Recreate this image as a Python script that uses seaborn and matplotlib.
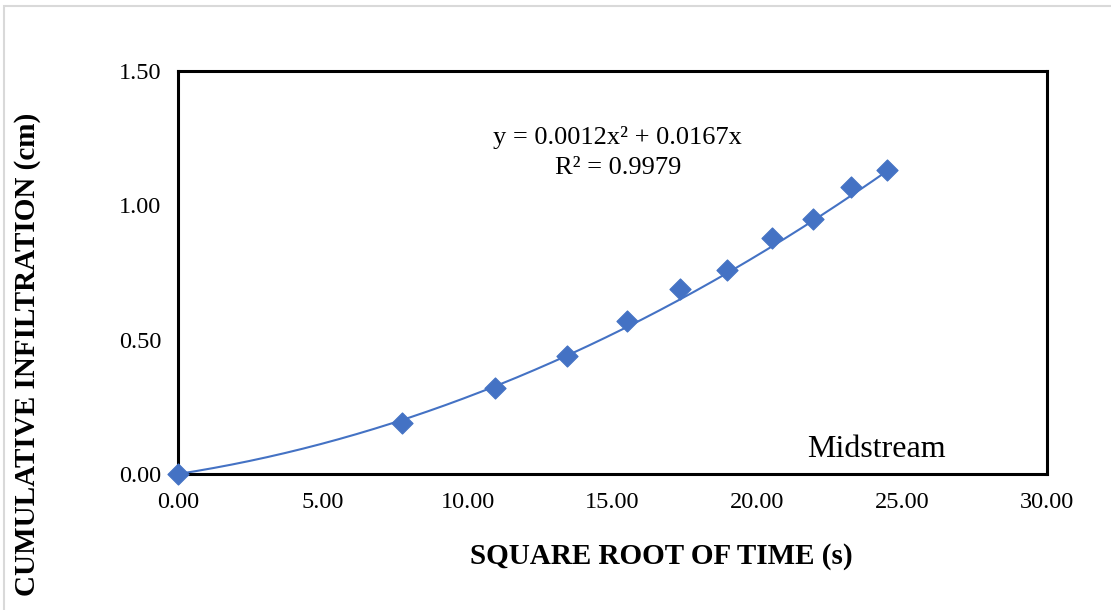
import numpy as np
import pandas as pd
import matplotlib
matplotlib.use("Agg")
import matplotlib.pyplot as plt
import seaborn as sns

# square root of time (s) and cumulative infiltration (cm)
sqrt_time = [0.00, 7.75, 10.95, 13.42, 15.49, 17.32, 18.97, 20.49, 21.91, 23.24, 24.49]
infiltration = [0.00, 0.19, 0.32, 0.44, 0.57, 0.69, 0.76, 0.88, 0.95, 1.07, 1.13]

# trendline as printed on the chart: y = a x^2 + b x
trend_coef = [0.0012, 0.0167]
trend_r2 = 0.9979

x_ticks = [0, 5, 10, 15, 20, 25, 30]
y_ticks = [0.0, 0.5, 1.0, 1.5]

df = pd.DataFrame({"x": sqrt_time, "y": infiltration})

xf = np.linspace(0, df["x"].max(), 200)
fit = pd.DataFrame({"x": xf, "y": trend_coef[0] * xf ** 2 + trend_coef[1] * xf})

sns.set_style("white", {"text.color": "black", "xtick.color": "black",
                        "ytick.color": "black", "axes.labelcolor": "black"})
plt.rcParams["font.family"] = ["Liberation Serif", "DejaVu Serif"]

blue = "#4472C4"

fig = plt.figure(figsize=(11.11, 6.10), dpi=100)
ax = fig.add_axes([178 / 1111, 1 - 474 / 610, 869 / 1111, 403 / 610])

sns.lineplot(data=fit, x="x", y="y", ax=ax, color=blue, linewidth=1.5)
sns.scatterplot(data=df, x="x", y="y", ax=ax, marker="D", s=115,
                color=blue, edgecolor=blue, zorder=3, clip_on=False)

ax.set_xlim(0, 30)
ax.set_ylim(0, 1.5)
ax.set_xticks(x_ticks)
ax.set_yticks(y_ticks)
ax.set_xticklabels([f"{v:.2f}" for v in x_ticks])
ax.set_yticklabels([f"{v:.2f}" for v in y_ticks])
ax.tick_params(axis="both", length=0, labelsize=17.5, labelcolor="black")
ax.tick_params(axis="x", pad=13)
ax.tick_params(axis="y", pad=12)
for sp in ax.spines.values():
    sp.set_linewidth(2.2)
    sp.set_color("black")
ax.set_xlabel("")
ax.set_ylabel("")

ax.text(0.506, 0.834, f"y = {trend_coef[0]:.4f}x² + {trend_coef[1]:.4f}x",
        transform=ax.transAxes, ha="center", va="center", fontsize=19)
ax.text(0.506, 0.759, f"R² = {trend_r2:.4f}",
        transform=ax.transAxes, ha="center", va="center", fontsize=19)
ax.text(0.804, 0.062, "Midstream", transform=ax.transAxes,
        ha="center", va="center", fontsize=23)

fig.text(661 / 1111, 1 - 556 / 610, "SQUARE ROOT OF TIME (s)",
         ha="center", va="center", fontsize=21, fontweight="bold")
fig.text(28 / 1111, 1 - 354 / 610, "CUMULATIVE INFILTRATION (cm)",
         ha="center", va="center", rotation=90, fontsize=21, fontweight="bold")

# light chart border
fig.patches.append(plt.Rectangle((4 / 1111, -0.1), 1.2, 1 - 6 / 610 + 0.1,
                                 transform=fig.transFigure, fill=False,
                                 edgecolor="#d9d9d9", linewidth=1.5))

fig.savefig("out.png", dpi=100)
